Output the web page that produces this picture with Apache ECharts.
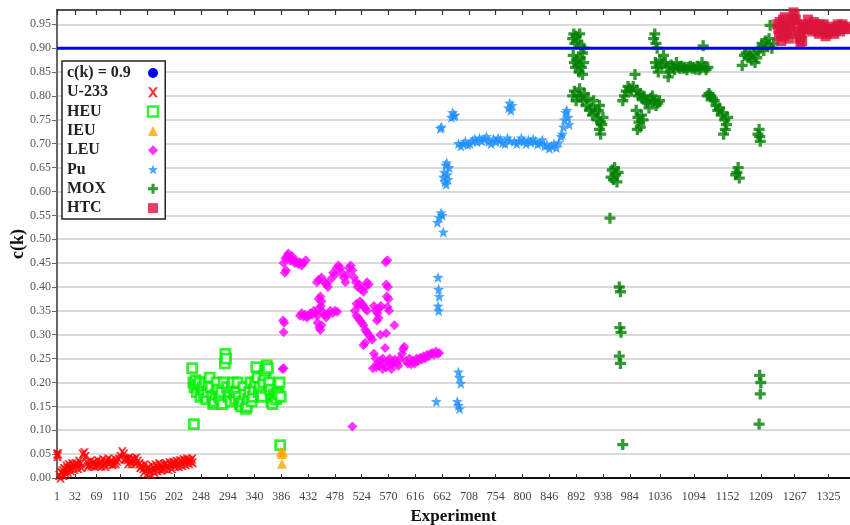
<!DOCTYPE html>
<html>
<head>
<meta charset="utf-8">
<script src="https://cdn.jsdelivr.net/npm/echarts@6/dist/echarts.min.js"></script>
<style>html,body{margin:0;padding:0;background:#fff}#c{width:850px;height:525px}</style>
</head>
<body>
<div id="c"></div>
<script>
const xTicks = [1,32,69,110,156,202,248,294,340,386,432,478,524,570,616,662,708,754,800,846,892,938,984,1036,1094,1152,1209,1267,1325];
const xMin = 1, xMax = 1362;
const threshold = 0.9;

const u233 = [[1,0.05],[2,0.045],[3,0.05],[5,0.005],[7,0.0],[8,0.012],[9,0.01],[11,0.015],[12,0.005],[13,0.02],[15,0.018],[16,0.01],[17,0.025],[19,0.02],[20,0.012],[21,0.028],[24,0.022],[25,0.015],[27,0.03],[30,0.025],[31,0.018],[33,0.03],[36,0.028],[37,0.02],[39,0.035],[42,0.03],[43,0.022],[45,0.05],[48,0.053],[50,0.045],[53,0.032],[54,0.024],[56,0.028],[59,0.035],[60,0.025],[62,0.03],[65,0.033],[66,0.024],[68,0.028],[71,0.036],[72,0.026],[74,0.03],[77,0.033],[78,0.025],[80,0.038],[83,0.03],[84,0.024],[86,0.035],[89,0.04],[90,0.03],[92,0.032],[95,0.036],[96,0.028],[98,0.03],[101,0.038],[102,0.03],[104,0.035],[107,0.04],[110,0.045],[113,0.055],[116,0.05],[117,0.04],[119,0.04],[122,0.038],[123,0.03],[125,0.042],[128,0.035],[129,0.03],[131,0.04],[134,0.037],[135,0.03],[137,0.042],[140,0.035],[143,0.03],[144,0.022],[146,0.025],[149,0.02],[150,0.012],[152,0.028],[155,0.018],[156,0.01],[158,0.022],[161,0.015],[162,0.008],[164,0.025],[167,0.02],[168,0.012],[170,0.027],[173,0.022],[174,0.015],[176,0.03],[179,0.025],[180,0.016],[182,0.02],[185,0.028],[186,0.02],[188,0.03],[191,0.025],[192,0.018],[194,0.032],[197,0.028],[198,0.02],[200,0.033],[203,0.03],[204,0.024],[206,0.035],[209,0.03],[210,0.024],[212,0.036],[215,0.033],[216,0.026],[218,0.038],[221,0.035],[222,0.028],[224,0.04],[227,0.037],[228,0.03],[230,0.035],[233,0.04],[234,0.032]];

const heu = [[233,0.23],[236,0.113],[235,0.2],[237,0.19],[239,0.205],[241,0.18],[243,0.195],[245,0.2],[247,0.17],[249,0.185],[251,0.19],[253,0.175],[255,0.2],[257,0.165],[259,0.18],[261,0.195],[263,0.21],[265,0.19],[267,0.17],[269,0.155],[271,0.16],[273,0.175],[275,0.2],[277,0.185],[279,0.17],[281,0.165],[283,0.18],[285,0.155],[287,0.2],[289,0.24],[290,0.26],[291,0.25],[293,0.19],[295,0.17],[297,0.18],[299,0.16],[301,0.19],[303,0.2],[305,0.175],[307,0.165],[309,0.18],[311,0.2],[313,0.17],[315,0.155],[317,0.15],[319,0.16],[321,0.19],[323,0.175],[325,0.145],[327,0.15],[329,0.165],[331,0.18],[333,0.2],[335,0.16],[337,0.17],[339,0.185],[341,0.2],[343,0.232],[345,0.21],[347,0.18],[349,0.19],[351,0.175],[353,0.17],[355,0.2],[357,0.215],[359,0.225],[361,0.236],[363,0.23],[365,0.2],[367,0.185],[369,0.16],[371,0.155],[373,0.175],[375,0.17],[377,0.165],[379,0.18],[381,0.175],[383,0.2],[384,0.069],[385,0.17]];

const ieu = [[385,0.055],[387,0.05],[389,0.055],[387,0.03]];

const leu = [[388,0.228],[390,0.23],[389,0.33],[391,0.325],[390,0.305],[392,0.43],[394,0.435],[390,0.45],[393,0.46],[396,0.465],[398,0.47],[400,0.46],[402,0.455],[404,0.465],[406,0.457],[409,0.45],[412,0.455],[415,0.448],[418,0.452],[421,0.445],[424,0.45],[428,0.456],[418,0.34],[421,0.345],[424,0.338],[427,0.342],[430,0.336],[433,0.34],[436,0.345],[439,0.342],[442,0.35],[445,0.345],[448,0.34],[451,0.355],[454,0.36],[457,0.348],[460,0.342],[463,0.336],[466,0.343],[470,0.35],[474,0.345],[478,0.35],[482,0.348],[448,0.325],[451,0.315],[453,0.31],[455,0.32],[450,0.375],[453,0.38],[455,0.37],[447,0.41],[450,0.415],[455,0.42],[460,0.41],[463,0.405],[466,0.4],[470,0.415],[475,0.43],[478,0.425],[481,0.44],[484,0.445],[487,0.44],[490,0.43],[493,0.42],[496,0.41],[499,0.425],[502,0.44],[505,0.445],[508,0.435],[511,0.42],[514,0.41],[517,0.4],[520,0.405],[523,0.395],[527,0.39],[530,0.4],[533,0.41],[536,0.405],[508,0.108],[515,0.365],[518,0.36],[521,0.37],[524,0.365],[527,0.36],[530,0.355],[533,0.35],[512,0.35],[515,0.34],[518,0.335],[521,0.33],[524,0.325],[527,0.32],[530,0.31],[533,0.305],[536,0.3],[539,0.295],[542,0.29],[527,0.278],[530,0.283],[545,0.36],[548,0.35],[551,0.345],[554,0.355],[557,0.36],[550,0.33],[553,0.335],[556,0.3],[565,0.452],[568,0.456],[566,0.405],[569,0.4],[567,0.38],[570,0.375],[568,0.358],[571,0.35],[580,0.32],[566,0.303],[564,0.272],[545,0.26],[548,0.25],[551,0.24],[554,0.235],[557,0.245],[560,0.25],[563,0.24],[566,0.232],[569,0.245],[572,0.25],[575,0.238],[578,0.242],[581,0.248],[584,0.24],[587,0.235],[590,0.25],[593,0.26],[595,0.27],[597,0.275],[600,0.245],[603,0.24],[606,0.25],[609,0.238],[612,0.245],[615,0.24],[618,0.25],[621,0.245],[624,0.252],[627,0.248],[630,0.255],[633,0.25],[636,0.258],[639,0.255],[642,0.26],[645,0.262],[648,0.258],[651,0.265],[654,0.26],[657,0.262],[543,0.23],[549,0.232],[575,0.228],[560,0.228]];

const pu = [[652,0.16],[655,0.42],[656,0.395],[657,0.38],[655,0.36],[656,0.35],[654,0.535],[657,0.545],[660,0.555],[662,0.55],[664,0.515],[659,0.732],[661,0.735],[664,0.63],[666,0.64],[668,0.655],[670,0.66],[667,0.62],[669,0.615],[672,0.625],[674,0.65],[671,0.635],[678,0.755],[680,0.765],[682,0.758],[684,0.76],[690,0.222],[692,0.21],[694,0.198],[688,0.16],[690,0.152],[692,0.145],[690,0.7],[694,0.695],[698,0.7],[702,0.705],[706,0.698],[710,0.7],[714,0.706],[718,0.71],[722,0.704],[726,0.712],[730,0.706],[734,0.71],[738,0.715],[742,0.705],[746,0.7],[750,0.71],[754,0.704],[758,0.712],[762,0.708],[766,0.702],[770,0.7],[774,0.712],[778,0.706],[776,0.775],[778,0.785],[780,0.77],[782,0.78],[786,0.705],[790,0.7],[794,0.706],[798,0.712],[802,0.705],[806,0.7],[810,0.708],[814,0.703],[818,0.71],[822,0.705],[826,0.699],[830,0.702],[834,0.708],[838,0.695],[842,0.698],[846,0.69],[850,0.695],[854,0.7],[858,0.692],[862,0.702],[866,0.715],[868,0.72],[870,0.735],[872,0.75],[874,0.765],[876,0.77],[878,0.755],[880,0.74]];

const mox = [[886,0.92],[888,0.93],[890,0.91],[892,0.925],[895,0.915],[898,0.93],[900,0.905],[903,0.89],[905,0.9],[887,0.885],[889,0.87],[891,0.86],[893,0.875],[895,0.865],[897,0.85],[899,0.88],[901,0.86],[903,0.845],[905,0.87],[886,0.8],[889,0.81],[892,0.79],[895,0.8],[898,0.815],[900,0.8],[903,0.79],[906,0.805],[909,0.78],[912,0.795],[915,0.77],[918,0.775],[920,0.76],[922,0.79],[925,0.765],[928,0.75],[930,0.77],[932,0.78],[934,0.745],[936,0.74],[932,0.73],[934,0.72],[938,0.755],[950,0.544],[952,0.63],[954,0.645],[956,0.625],[958,0.65],[960,0.635],[962,0.62],[964,0.64],[966,0.4],[968,0.39],[967,0.315],[969,0.305],[966,0.255],[968,0.24],[972,0.07],[972,0.79],[975,0.8],[978,0.81],[981,0.82],[984,0.815],[987,0.81],[990,0.82],[993,0.845],[996,0.812],[999,0.8],[1002,0.805],[1005,0.795],[1008,0.8],[1011,0.79],[1014,0.785],[1017,0.775],[1020,0.795],[1023,0.8],[1026,0.79],[1029,0.78],[1032,0.785],[1035,0.79],[995,0.77],[998,0.755],[1000,0.745],[1002,0.735],[997,0.73],[1004,0.76],[1007,0.75],[1025,0.92],[1027,0.93],[1029,0.91],[1031,0.9],[1028,0.87],[1030,0.86],[1033,0.85],[1036,0.875],[1039,0.865],[1042,0.885],[1045,0.87],[1048,0.86],[1050,0.84],[1052,0.85],[1055,0.865],[1058,0.86],[1061,0.855],[1064,0.87],[1067,0.86],[1070,0.858],[1073,0.862],[1076,0.858],[1079,0.86],[1082,0.855],[1085,0.86],[1088,0.862],[1091,0.858],[1094,0.86],[1097,0.856],[1100,0.862],[1103,0.855],[1106,0.858],[1108,0.87],[1110,0.905],[1112,0.86],[1115,0.855],[1118,0.86],[1117,0.8],[1120,0.805],[1123,0.8],[1126,0.795],[1129,0.79],[1132,0.78],[1135,0.77],[1138,0.775],[1141,0.76],[1144,0.765],[1147,0.75],[1150,0.74],[1148,0.73],[1145,0.72],[1152,0.755],[1166,0.635],[1168,0.64],[1170,0.65],[1172,0.628],[1177,0.864],[1181,0.885],[1184,0.89],[1187,0.88],[1190,0.885],[1193,0.875],[1196,0.89],[1199,0.87],[1202,0.88],[1205,0.895],[1208,0.9],[1211,0.91],[1214,0.895],[1217,0.915],[1220,0.905],[1223,0.92],[1225,0.948],[1228,0.9],[1231,0.91],[1204,0.72],[1206,0.73],[1208,0.705],[1207,0.715],[1207,0.215],[1209,0.2],[1208,0.176],[1206,0.113]];

const htc = [[1237,0.95],[1239,0.94],[1241,0.955],[1243,0.93],[1245,0.945],[1247,0.96],[1249,0.925],[1251,0.95],[1253,0.935],[1255,0.94],[1257,0.92],[1259,0.945],[1261,0.93],[1263,0.96],[1265,0.975],[1267,0.97],[1269,0.96],[1271,0.95],[1273,0.935],[1275,0.92],[1277,0.91],[1279,0.93],[1281,0.945],[1283,0.94],[1285,0.95],[1287,0.945],[1289,0.94],[1291,0.95],[1293,0.945],[1295,0.94],[1297,0.935],[1299,0.945],[1301,0.94],[1303,0.95],[1305,0.945],[1307,0.935],[1309,0.93],[1311,0.94],[1313,0.935],[1315,0.945],[1317,0.95],[1319,0.94],[1321,0.935],[1323,0.93],[1325,0.94],[1327,0.935],[1329,0.945],[1331,0.94],[1333,0.935],[1335,0.93],[1337,0.94],[1339,0.945],[1341,0.95],[1343,0.94],[1345,0.935],[1347,0.945],[1349,0.95],[1351,0.945],[1353,0.94],[1355,0.945],[1357,0.94],[1240,0.925],[1244,0.915],[1250,0.965],[1266,0.96],[1277,0.925],[1280,0.915],[1290,0.96],[1300,0.955],[1310,0.95],[1320,0.925]];

const seriesNames = ['c(k) = 0.9','U-233','HEU','IEU','LEU','Pu','MOX','HTC'];

const SERIF = '"Liberation Serif","DejaVu Serif",serif';
const xShape = 'path://M0,0 L2.5,0 L5,3 L7.5,0 L10,0 L6.3,5 L10,10 L7.5,10 L5,7 L2.5,10 L0,10 L3.7,5 Z';
const plusShape = 'path://M3.5,0 H6.5 V3.5 H10 V6.5 H6.5 V10 H3.5 V6.5 H0 V3.5 H3.5 Z';
const starShape = 'path://M5,0 L6.3,3.4 L10,3.6 L7.1,5.9 L8.1,9.6 L5,7.5 L1.9,9.6 L2.9,5.9 L0,3.6 L3.7,3.4 Z';

const chart = echarts.init(document.getElementById('c'), null, {renderer: 'canvas'});
const scatter = (name, data, symbol, size, style) => ({
  name, type: 'scatter', data, symbol, symbolSize: size, itemStyle: style,
  animation: false, z: 2
});

chart.setOption({
  animation: false,
  backgroundColor: '#fff',
  grid: {left: 57, right: 0, top: 10, bottom: 47, containLabel: false, outerBoundsMode: 'none'},
  legend: {
    show: true, orient: 'vertical', left: 62, top: 61,
    data: [
      {name: seriesNames[0], icon: 'circle'},
      {name: seriesNames[1], icon: xShape},
      {name: seriesNames[2], icon: 'rect', itemStyle: {color: '#fff', borderColor: '#00ee00', borderWidth: 2.5}},
      {name: seriesNames[3], icon: 'triangle'},
      {name: seriesNames[4], icon: 'diamond'},
      {name: seriesNames[5], icon: starShape},
      {name: seriesNames[6], icon: plusShape},
      {name: seriesNames[7], icon: 'rect'}
    ],
    align: 'right',
    formatter: n => '{t|' + n + '}',
    itemWidth: 10, itemHeight: 10, itemGap: 3.3,
    padding: [4, 6, 3, 5],
    backgroundColor: '#fff', borderColor: '#222', borderWidth: 1.5,
    textStyle: {
      fontFamily: SERIF, fontWeight: 'bold', fontSize: 16, color: '#222', lineHeight: 14,
      rich: {t: {fontFamily: SERIF, fontWeight: 'bold', fontSize: 16, color: '#222', width: 76, align: 'left', lineHeight: 14}}
    },
    selectedMode: false
  },
  xAxis: [{
    type: 'value', min: xMin, max: xMax, position: 'bottom',
    name: 'Experiment', nameLocation: 'middle', nameGap: 29,
    nameTextStyle: {fontFamily: SERIF, fontWeight: 'bold', fontSize: 17, color: '#111'},
    axisLine: {show: true, onZero: false, lineStyle: {color: '#111', width: 2}},
    axisTick: {show: true, inside: true, length: 4, customValues: xTicks, lineStyle: {color: '#333', width: 1}},
    axisLabel: {customValues: xTicks, formatter: v => String(v), fontFamily: SERIF, fontSize: 12, color: '#444', margin: 13},
    splitLine: {show: false}
  }, {
    type: 'value', min: xMin, max: xMax, position: 'top',
    axisLine: {show: true, onZero: false, lineStyle: {color: '#222', width: 1.5}},
    axisTick: {show: true, inside: true, length: 5, customValues: xTicks, lineStyle: {color: '#333', width: 1.2}},
    axisLabel: {show: false},
    splitLine: {show: false}
  }],
  yAxis: {
    type: 'value', min: 0, max: 0.98, interval: 0.05,
    name: 'c(k)', nameLocation: 'middle', nameGap: 30, nameRotate: 90, nameMoveOverlap: false,
    nameTextStyle: {fontFamily: SERIF, fontWeight: 'bold', fontSize: 18, color: '#111'},
    axisLine: {show: true, lineStyle: {color: '#666', width: 2}},
    axisTick: {show: true, inside: false, length: 5, lineStyle: {color: '#666', width: 1}},
    axisLabel: {showMaxLabel: false, formatter: v => v.toFixed(2), fontFamily: SERIF, fontSize: 12, color: '#555', margin: 6},
    splitLine: {show: true, lineStyle: {color: '#cccccc', width: 1.5}}
  },
  series: [
    {name: seriesNames[0], type: 'line', data: [[xMin, threshold], [xMax, threshold]], symbol: 'none',
     lineStyle: {color: '#0000ff', width: 3}, itemStyle: {color: '#0000ff'}, z: 5, animation: false},
    scatter(seriesNames[1], u233, xShape, 9, {color: '#ff0000'}),
    scatter(seriesNames[2], heu, 'rect', 9, {color: '#ffffff', borderColor: '#00ee00', borderWidth: 2.8}),
    scatter(seriesNames[3], ieu, 'triangle', 10, {color: '#ffa500'}),
    scatter(seriesNames[4], leu, 'diamond', 10, {color: '#ff00ff'}),
    scatter(seriesNames[5], pu, starShape, 11, {color: '#1e90ff'}),
    scatter(seriesNames[6], mox, plusShape, 11, {color: '#008000'}),
    scatter(seriesNames[7], htc, 'rect', 10, {color: '#dc143c'})
  ]
});
</script>
</body>
</html>
